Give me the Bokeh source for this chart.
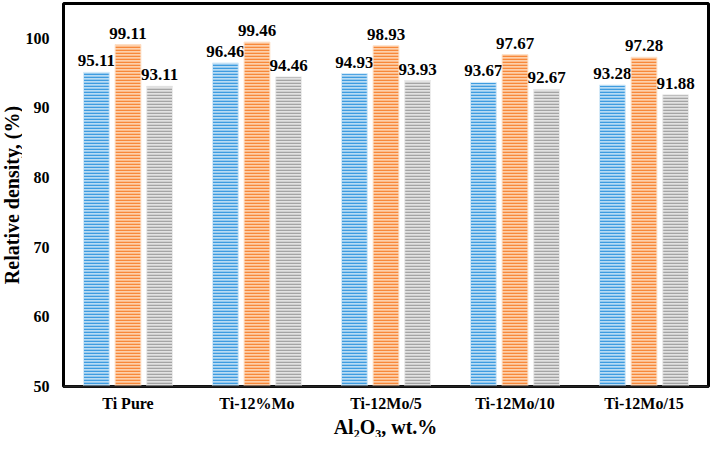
import math
from bokeh.plotting import figure
from bokeh.layouts import column, row
from bokeh.models import FactorRange, Range1d, ColumnDataSource, FixedTicker, Spacer
from bokeh.transform import dodge
from bokeh.core.properties import value
from bokeh.embed import file_html
from bokeh.resources import INLINE

categories = ["Ti Pure", "Ti-12%Mo", "Ti-12Mo/5", "Ti-12Mo/10", "Ti-12Mo/15"]
series_a = [95.11, 96.46, 94.93, 93.67, 93.28]
series_b = [99.11, 99.46, 98.93, 97.67, 97.28]
series_c = [93.11, 94.46, 93.93, 92.67, 91.88]
y_ticks = [50, 60, 70, 80, 90, 100]
x_title = "Al\u2082O\u2083, wt.%"
y_title = "Relative density, (%)"

FONT = "Liberation Serif"

src = ColumnDataSource(data=dict(
    cat=categories, a=series_a, b=series_b, c=series_c,
    la=["%.2f" % v for v in series_a],
    lb=["%.2f" % v for v in series_b],
    lc=["%.2f" % v for v in series_c],
))

LEFT_W = 22
BOTTOM_H = 21
MAIN_W = 710 - LEFT_W
MAIN_H = 437 - BOTTOM_H
MB_LEFT = 40
MB_RIGHT = 2

p = figure(width=MAIN_W, height=MAIN_H, output_backend="svg", toolbar_location=None,
           x_range=FactorRange(*categories, range_padding=0.0),
           y_range=Range1d(50, 105.0))
p.min_border_left = MB_LEFT
p.min_border_right = MB_RIGHT
p.min_border_top = 3
p.min_border_bottom = 30

p.background_fill_color = "white"
p.border_fill_color = "white"
p.outline_line_color = "black"
p.outline_line_width = 3
p.grid.visible = False

styles = [
    ("a", "la", -0.245, "#b9dcf4", "#3e9ce0", "#d4eaf9"),
    ("b", "lb", 0.0, "#fdd0ab", "#f7883a", "#fde0c8"),
    ("c", "lc", 0.245, "#e2e2e2", "#a4a4a4", "#ececec"),
]
for col, lab, off, fill, hatch, edge in styles:
    p.vbar(x=dodge("cat", off, range=p.x_range), top=col, bottom=50, width=0.2,
           source=src, fill_color=fill, line_color=edge, line_width=1,
           hatch_pattern="horizontal_line", hatch_color=hatch,
           hatch_scale=3, hatch_weight=1.6)
    p.text(x=dodge("cat", off, range=p.x_range), y=col, text=lab, source=src,
           text_align="center", text_baseline="bottom", y_offset=-6,
           text_font=value(FONT), text_font_style="bold",
           text_font_size="17px", text_color="black")

p.yaxis.ticker = FixedTicker(ticks=y_ticks)
p.yaxis.axis_line_color = None
p.yaxis.major_label_standoff = 14

p.xaxis.axis_line_color = "#222222"
p.xaxis.axis_line_width = 2
p.xaxis.major_label_standoff = 8

for ax in (p.xaxis, p.yaxis):
    ax.major_tick_line_color = None
    ax.minor_tick_line_color = None
    ax.major_tick_out = 0
    ax.major_tick_in = 0
    ax.minor_tick_out = 0
    ax.minor_tick_in = 0
    ax.major_label_text_font = FONT
    ax.major_label_text_font_style = "bold"
    ax.major_label_text_font_size = "16px"
    ax.major_label_text_color = "black"


def title_fig(w, h, text, angle, size):
    f = figure(width=w, height=h, output_backend="svg", toolbar_location=None,
               x_range=Range1d(0, 1), y_range=Range1d(0, 1),
               x_axis_type=None, y_axis_type=None)
    f.min_border = 0
    f.outline_line_color = None
    f.grid.visible = False
    f.background_fill_color = "white"
    f.border_fill_color = "white"
    f.text(x=[0.5], y=[0.5], text=[text], angle=angle,
           text_align="center", text_baseline="middle",
           text_font=value(FONT), text_font_style="bold",
           text_font_size=size, text_color="black")
    return f


frame_w = MAIN_W - MB_LEFT - MB_RIGHT
yt = title_fig(LEFT_W, MAIN_H, y_title, math.pi / 2, "20px")
xt = title_fig(frame_w, BOTTOM_H, x_title, 0, "20px")

layout = column(row(yt, p), row(Spacer(width=LEFT_W + MB_LEFT, height=BOTTOM_H), xt))

open("out.html", "w").write(file_html(layout, INLINE))
